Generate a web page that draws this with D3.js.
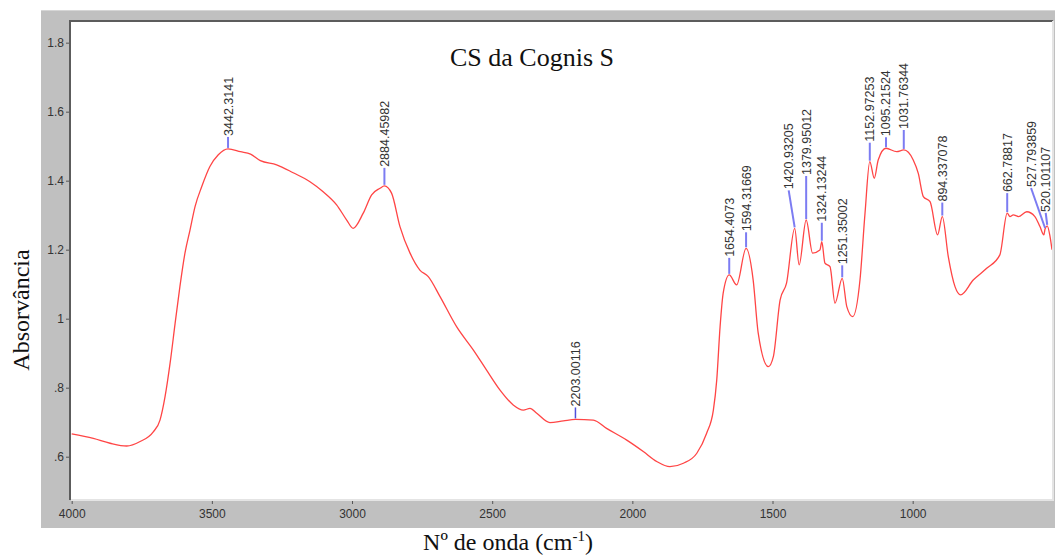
<!DOCTYPE html>
<html>
<head>
<meta charset="utf-8">
<script src="https://cdn.jsdelivr.net/npm/d3@7"></script>
<style>
  html, body { margin: 0; padding: 0; background: #ffffff; }
  svg { display: block; }
</style>
</head>
<body>
<svg id="chart" width="1055" height="555"></svg>
<script>
// FTIR absorbance spectrum, wavenumbers in descending order (cm-1)
const wavenumbers = [
  4000, 3923, 3863, 3804, 3756, 3709, 3685, 3667, 3649, 3631, 3614, 3596, 3578, 3560, 3536, 3507, 3477,
  3442.3141, 3398, 3362, 3327, 3269, 3210, 3150, 3103, 3055, 3019, 2996, 2960, 2930, 2900,
  2884.45982, 2859, 2829, 2793, 2758, 2728, 2686, 2627, 2567, 2520, 2472, 2425, 2389, 2365, 2341, 2294, 2246,
  2203.00116, 2139, 2092, 2020, 1961, 1913, 1866, 1818, 1770, 1735, 1711, 1699, 1687, 1676,
  1654.4073, 1628, 1594.31669, 1569, 1551, 1515, 1497, 1473, 1450,
  1420.93205, 1405, 1379.95012, 1357, 1331, 1324.13244, 1313, 1295, 1277, 1251.35002, 1235, 1214, 1188, 1170,
  1152.97253, 1137, 1123, 1095.21524, 1057, 1031.76344, 998, 980, 962, 938, 911,
  894.337078, 873, 849, 829, 784, 736, 689, 662.78817, 653, 641, 623, 593, 564, 546, 532,
  527.793859, 520.101107, 510, 503
];
const absorbance = [
  0.666, 0.653, 0.639, 0.631, 0.644, 0.672, 0.706, 0.774, 0.871, 0.987, 1.093, 1.190, 1.257, 1.325, 1.383, 1.441, 1.475,
  1.492, 1.484, 1.477, 1.458, 1.446, 1.423, 1.397, 1.368, 1.330, 1.286, 1.262, 1.306, 1.359, 1.378,
  1.385, 1.364, 1.267, 1.190, 1.141, 1.122, 1.064, 0.977, 0.909, 0.851, 0.793, 0.750, 0.735, 0.740, 0.726, 0.699, 0.704,
  0.708, 0.706, 0.682, 0.648, 0.615, 0.586, 0.571, 0.581, 0.610, 0.668, 0.735, 0.822, 0.977, 1.074,
  1.127, 1.098, 1.204, 1.112, 0.958, 0.861, 0.890, 1.054, 1.103,
  1.262, 1.156, 1.286, 1.190, 1.199, 1.223, 1.161, 1.151, 1.045, 1.117, 1.035, 1.006, 1.112, 1.306,
  1.455, 1.407, 1.460, 1.494, 1.484, 1.489, 1.460, 1.421, 1.354, 1.339, 1.243,
  1.296, 1.180, 1.093, 1.069, 1.112, 1.146, 1.185, 1.306, 1.296, 1.301, 1.296, 1.310, 1.296, 1.267, 1.243,
  1.260, 1.269, 1.238, 1.200
];

// Picked peaks
const peakWavenumbers = [
  3442.3141, 2884.45982, 2203.00116, 1654.4073, 1594.31669, 1420.93205, 1379.95012, 1324.13244,
  1251.35002, 1152.97253, 1095.21524, 1031.76344, 894.337078, 662.78817, 527.793859, 520.101107
];
const peakLabels = [
  "3442.3141", "2884.45982", "2203.00116", "1654.4073", "1594.31669", "1420.93205", "1379.95012", "1324.13244",
  "1251.35002", "1152.97253", "1095.21524", "1031.76344", "894.337078", "662.78817", "527.793859", "520.101107"
];

// Axis ticks
const xTickValues = [4000, 3500, 3000, 2500, 2000, 1500, 1000];
const xTickLabels = ["4000", "3500", "3000", "2500", "2000", "1500", "1000"];
const yTickValues = [0.6, 0.8, 1.0, 1.2, 1.4, 1.6, 1.8];
const yTickLabels = [".6", ".8", "1", "1.2", "1.4", "1.6", "1.8"];

const titleText = "CS da Cognis S";
const yTitleText = "Absorvância";

// ---- layout ----
const plot = { left: 71, top: 22, right: 1052, bottom: 499 };

// leader length (px) and horizontal shift of each peak label
const leaderLayout = [
  [12, 0], [18, 0], [12, 0], [17, 0], [16, 0], [38, -6], [44, 0], [19, 0],
  [13, 0], [19, 0], [11, 0], [20, 0], [14, 0], [20, 0], [41, -14], [13, -1.5]
];

const svg = d3.select("#chart");

const x = d3.scaleLinear().domain([4000, 503]).range([71.7, 1052]);
const y = d3.scaleLinear().domain([0.4774, 1.857]).range([499, 23]);

// panel background
svg.append("rect").attr("x", 41).attr("y", 10).attr("width", 1014).attr("height", 518).attr("fill", "#c0c0c0");
svg.append("line").attr("x1", 41).attr("x2", 1055).attr("y1", 10.5).attr("y2", 10.5).attr("stroke", "#d6d6d6");

// plotting area
svg.append("rect")
  .attr("x", plot.left).attr("y", plot.top)
  .attr("width", plot.right - plot.left).attr("height", plot.bottom - plot.top)
  .attr("fill", "#ffffff");
svg.append("line").attr("x1", 70).attr("x2", 70).attr("y1", 20).attr("y2", 500)
  .attr("stroke", "#5c5c5c").attr("stroke-width", 2);
svg.append("line").attr("x1", 69).attr("x2", 1053).attr("y1", 21).attr("y2", 21)
  .attr("stroke", "#5c5c5c").attr("stroke-width", 2);
svg.append("line").attr("x1", 71).attr("x2", 1054).attr("y1", 500).attr("y2", 500)
  .attr("stroke", "#e4e4e4").attr("stroke-width", 2);
svg.append("line").attr("x1", 1053).attr("x2", 1053).attr("y1", 21).attr("y2", 501)
  .attr("stroke", "#e4e4e4").attr("stroke-width", 2);

svg.append("clipPath").attr("id", "plotClip")
  .append("rect")
  .attr("x", plot.left).attr("y", plot.top)
  .attr("width", plot.right - plot.left).attr("height", plot.bottom - plot.top);

// axes
const tickFont = "'Liberation Sans', Arial, sans-serif";
const yAxis = d3.axisLeft(y)
  .tickValues(yTickValues)
  .tickFormat((d, i) => yTickLabels[i])
  .tickSize(3).tickPadding(2);
const gy = svg.append("g").attr("transform", "translate(69,0)").call(yAxis);
gy.select(".domain").remove();
gy.selectAll("line").attr("stroke", "#555");
gy.selectAll("text").attr("fill", "#333").style("font-family", tickFont).style("font-size", "12px");

const xAxis = d3.axisBottom(x)
  .tickValues(xTickValues)
  .tickFormat((d, i) => xTickLabels[i])
  .tickSize(3).tickPadding(5);
const gx = svg.append("g").attr("transform", "translate(0,501)").call(xAxis);
gx.select(".domain").remove();
gx.selectAll("line").attr("stroke", "#555");
gx.selectAll("text").attr("fill", "#333").style("font-family", tickFont).style("font-size", "12px");

// spectrum
const spectrum = wavenumbers.map((w, i) => ({ w, a: absorbance[i] }));
const line = d3.line()
  .x(d => x(d.w))
  .y(d => y(d.a))
  .curve(d3.curveMonotoneX);

const plotG = svg.append("g").attr("clip-path", "url(#plotClip)");
plotG.append("path")
  .datum(spectrum)
  .attr("d", line)
  .attr("fill", "none")
  .attr("stroke", "#ff4545")
  .attr("stroke-width", 1.3)
  .attr("stroke-linejoin", "round");

// peak markers and labels
const absAt = w => absorbance[wavenumbers.indexOf(w)];
const peaks = peakWavenumbers.map((w, i) => ({
  w, a: absAt(w), label: peakLabels[i], len: leaderLayout[i][0], dx: leaderLayout[i][1]
}));

const pg = plotG.selectAll("g.peak").data(peaks).enter().append("g").attr("class", "peak");
pg.append("path")
  .attr("d", d => {
    const px = x(d.w), py = y(d.a) - 1;
    const tx = px + d.dx, ty = y(d.a) - d.len;
    return `M${px},${py}L${tx},${ty}`;
  })
  .attr("fill", "none")
  .attr("stroke", d => d.w === 2203.00116 ? "#4f4fdc" : "#7c7cf2")
  .attr("stroke-width", d => d.w === 2203.00116 ? 1.5 : 2);
pg.append("text")
  .attr("transform", d => `translate(${x(d.w) + d.dx},${y(d.a) - d.len - 1}) rotate(-90)`)
  .attr("dy", "0.36em")
  .attr("text-anchor", "start")
  .attr("fill", "#333")
  .style("font-family", tickFont)
  .style("font-size", "12.5px")
  .text(d => d.label);

// titles
const serif = "'Liberation Serif', 'Times New Roman', serif";
svg.append("text")
  .attr("x", 532).attr("y", 66)
  .attr("text-anchor", "middle")
  .attr("fill", "#111")
  .style("font-family", serif).style("font-size", "26px")
  .text(titleText);

svg.append("text")
  .attr("transform", "translate(29,310) rotate(-90)")
  .attr("text-anchor", "middle")
  .attr("fill", "#111")
  .style("font-family", serif).style("font-size", "24px")
  .text(yTitleText);

const xt = svg.append("text")
  .attr("x", 508).attr("y", 550)
  .attr("text-anchor", "middle")
  .attr("fill", "#111")
  .style("font-family", serif).style("font-size", "24px");
xt.append("tspan").text("Nº de onda (cm");
xt.append("tspan").attr("dy", "-9").style("font-size", "15px").text("-1");
xt.append("tspan").attr("dy", "9").text(")");
</script>
</body>
</html>
